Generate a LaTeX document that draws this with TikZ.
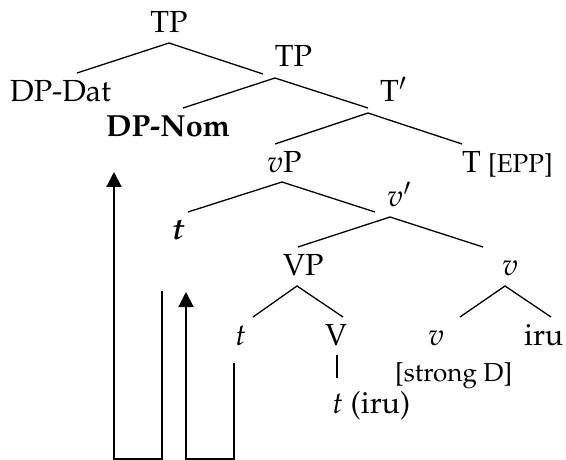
\documentclass[tikz,border=0pt]{standalone}
\usepackage[T1]{fontenc}
\usepackage{mathpazo}
\usetikzlibrary{arrows.meta}
\begin{document}
\begin{tikzpicture}[x=1pt,y=-1pt,
  lbl/.style={inner sep=0pt,anchor=base west,font=\fontsize{30.5}{36}\selectfont},
  small/.style={inner sep=0pt,anchor=base west,font=\fontsize{26}{31}\selectfont},
  branch/.style={line width=1.3pt},
  mv/.style={line width=2pt,-{Triangle[length=15pt,width=15pt]}}]
\useasboundingbox (0,0) rectangle (566,460);
% labels
\node[lbl,anchor=base] (TPa) at (169,33) {TP};
\node[lbl] (DPDat) at (10,102) {DP-Dat};
\node[lbl,anchor=base] (TPb) at (293.5,67) {TP};
\node[lbl] (DPNom) at (106,137) {\textbf{DP-Nom}};
\node[lbl] (Tbar) at (380,102) {T$'$};
\node[lbl] (vP) at (267,172) {$v$P};
\node[lbl] (T) at (462,172) {T};
\node[small] (EPP) at (488,172) {[EPP]};
\node[lbl] (tb) at (172,240) {\textbf{\textit{t}}};
\node[lbl] (vbar) at (387,207) {$v'$};
\node[lbl] (VP) at (283,275) {VP};
\node[lbl] (vR) at (502,275) {$v$};
\node[lbl] (tVP) at (235,345) {$t$};
\node[lbl] (V) at (325,345) {V};
\node[lbl] (vL) at (428,345) {$v$};
\node[lbl] (iru) at (524,345) {iru};
\node[small] (strongD) at (395,381) {[strong D]};
\node[lbl] (tiru) at (332,413) {$t$ (iru)};
% branch points
\coordinate (a1) at (169,43); \coordinate (a1L) at (77,73); \coordinate (a1R) at (263,74);
\coordinate (a2) at (275,78); \coordinate (a2L) at (183,108); \coordinate (a2R) at (368,108);
\coordinate (a3) at (368,113); \coordinate (a3L) at (275,144); \coordinate (a3R) at (462,144);
\coordinate (a4) at (282,182); \coordinate (a4L) at (188,212); \coordinate (a4R) at (375,212);
\coordinate (a5) at (390,217); \coordinate (a5L) at (298,247); \coordinate (a5R) at (483,247);
\coordinate (a6) at (297,286); \coordinate (a6L) at (253,317); \coordinate (a6R) at (343,317);
\coordinate (a7) at (505,286); \coordinate (a7L) at (460,317); \coordinate (a7R) at (551,317);
\coordinate (b1) at (337,355); \coordinate (b2) at (337,378);
\foreach \n in {1,...,7}{\draw[branch] (a\n L) -- (a\n) -- (a\n R);}
\draw[branch] (b1) -- (b2);
% movement arrows
\coordinate (m1s) at (162,291); \coordinate (m1a) at (162,459);
\coordinate (m1b) at (114,459); \coordinate (m1e) at (114,172);
\coordinate (m2s) at (234,363); \coordinate (m2a) at (234,459);
\coordinate (m2b) at (186,459); \coordinate (m2e) at (186,292);
\draw[mv] (m1s) -- (m1a) -- (m1b) -- (m1e);
\draw[mv] (m2s) -- (m2a) -- (m2b) -- (m2e);
\end{tikzpicture}
\end{document}
